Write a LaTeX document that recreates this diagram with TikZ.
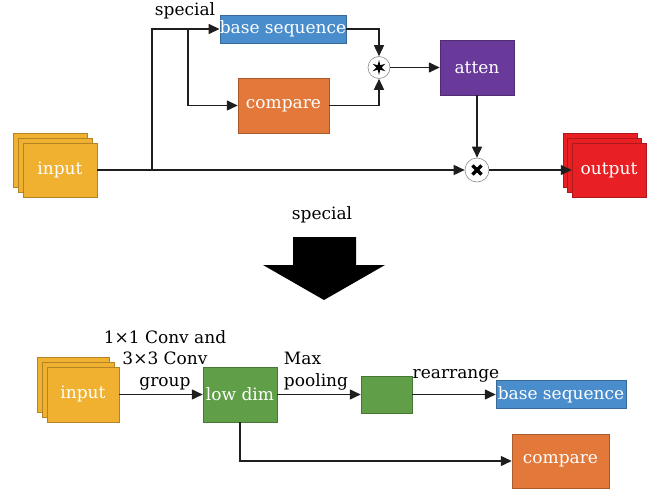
\documentclass[tikz,border=0pt]{standalone}
\usepackage{fontspec}
\setmainfont{DejaVu Serif}
\usepackage{xcolor}
\usepackage{tikz}
\usetikzlibrary{positioning, arrows.meta}

\definecolor{seqblue}{RGB}{74,141,204}
\definecolor{cmporange}{RGB}{226,121,58}
\definecolor{attpurple}{RGB}{106,58,154}
\definecolor{dimgreen}{RGB}{96,158,72}
\definecolor{inyellow}{RGB}{240,176,48}
\definecolor{outred}{RGB}{232,32,36}
\definecolor{linegray}{RGB}{30,30,30}

\tikzset{
  box/.style={rectangle, inner sep=0pt, text=white, fill=#1, draw=#1!75!black, line width=0.5pt},
  arr/.style={draw=linegray, line width=1.5pt, -{Triangle[length=11pt,width=10pt]}},
  plain/.style={draw=linegray, line width=1.5pt},
  opcirc/.style={circle, inner sep=0pt, fill=white, draw=black!45, line width=0.6pt},
  lbl/.style={text=black, anchor=base, align=center}
}

\begin{document}
\begin{tikzpicture}[x=1pt, y=-1pt, font=\fontsize{17}{21.5}\selectfont]
\useasboundingbox (0,0) rectangle (654,493);

% top part
\node[box=inyellow, minimum width=74pt, minimum height=54pt] (in1c) at (50,160) {};
\node[box=inyellow, minimum width=74pt, minimum height=54pt] (in1b) at (55,165) {};
\node[box=inyellow, minimum width=74pt, minimum height=54pt] (in1a) at (60,170) {input};
\node[box=seqblue, minimum width=124pt, minimum height=28pt] (base1) at (283,29) {base sequence};
\node[box=cmporange, minimum width=91pt, minimum height=55pt] (cmp1) at (283.5,105.5) {compare};
\node[box=attpurple, minimum width=74pt, minimum height=55pt] (atten) at (477,67.5) {atten};
\node[opcirc, minimum size=22pt] (star) at (379,67.5) {};
\node[opcirc, minimum size=24pt] (times) at (477,170) {};
\node[box=outred, minimum width=74pt, minimum height=54pt] (out1c) at (600,160) {};
\node[box=outred, minimum width=74pt, minimum height=54pt] (out1b) at (604.5,165) {};
\node[box=outred, minimum width=74pt, minimum height=54pt] (out1a) at (609,170) {output};
\node[lbl] (sp1) at (185,15) {special};

% star and cross symbols
\fill (star.center) +(90:7.5pt) -- +(120:2.6pt) -- +(150:7.5pt) -- +(180:2.6pt)
  -- +(210:7.5pt) -- +(240:2.6pt) -- +(270:7.5pt) -- +(300:2.6pt)
  -- +(330:7.5pt) -- +(0:2.6pt) -- +(30:7.5pt) -- +(60:2.6pt) -- cycle;
\draw[line width=3.2pt] (times.center) +(45:6.5pt) -- +(225:6.5pt);
\draw[line width=3.2pt] (times.center) +(135:6.5pt) -- +(315:6.5pt);

\coordinate (sp1a) at (152,170);
\coordinate (sp1b) at (152,29);
\coordinate (sp1c) at (188,29);
\draw[arr] (in1a.east) -- (times.west);
\draw[plain] (sp1a) -- (sp1b) -- (sp1c);
\draw[arr] (sp1c) -- (base1.west);
\draw[arr] (sp1c) |- (cmp1.west);
\draw[arr] (base1.east) -| (star.north);
\draw[arr] (cmp1.east) -| (star.south);
\draw[arr] (star.east) -- (atten.west);
\draw[arr] (atten.south) -- (times.north);
\draw[arr] (times.east) -- (out1a.west);

% big arrow
\node[lbl] (sp2) at (322,219) {special};
\fill[black] (293,237) -- (356,237) -- (356,265) -- (385,265) -- (324,300)
  -- (263,265) -- (293,265) -- cycle;

% bottom part
\node[box=inyellow, minimum width=72pt, minimum height=55pt] (in2c) at (73,384.5) {};
\node[box=inyellow, minimum width=72pt, minimum height=55pt] (in2b) at (78,389.5) {};
\node[box=inyellow, minimum width=72pt, minimum height=55pt] (in2a) at (83,394.5) {input};
\node[box=dimgreen, minimum width=74pt, minimum height=55pt] (lowdim) at (240,394.5) {low dim};
\node[box=dimgreen, minimum width=51pt, minimum height=37pt] (pool) at (386.5,394.5) {};
\node[box=seqblue, minimum width=130pt, minimum height=28pt] (base2) at (561,394.5) {base sequence};
\node[box=cmporange, minimum width=97pt, minimum height=54pt] (cmp2) at (560.5,461) {compare};

\node[lbl] (conv) at (165,386) {1×1 Conv and\\3×3 Conv\\group};
\node[lbl, align=left] (maxp) at (316,386) {Max\\pooling};
\node[lbl] (rearr) at (456,378) {rearrange};

\draw[arr] (in2a.east) -- (lowdim.west);
\draw[arr] (lowdim.east) -- (pool.west);
\draw[arr] (pool.east) -- (base2.west);
\draw[arr] (lowdim.south) |- (cmp2.west);
\end{tikzpicture}
\end{document}
